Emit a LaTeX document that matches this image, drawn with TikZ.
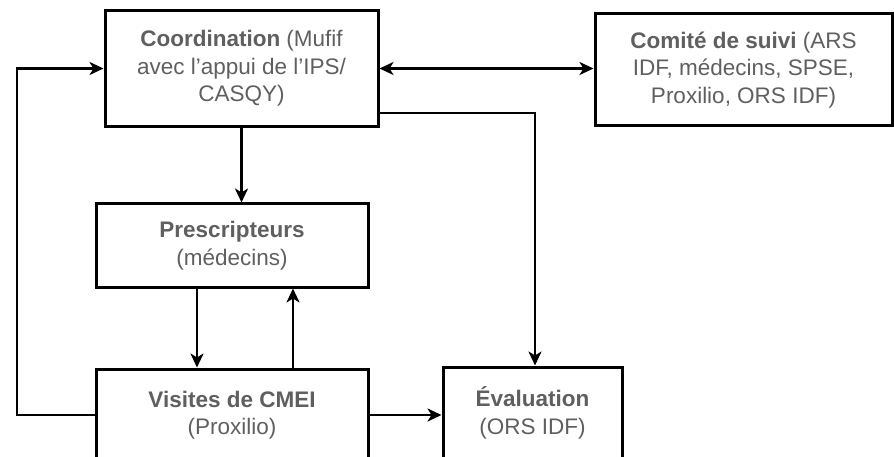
\documentclass[tikz,border=0pt]{standalone}
\usepackage{fontspec}
\setmainfont{Liberation Sans}
\usetikzlibrary{arrows.meta}
\definecolor{txt}{RGB}{95,95,95}
\begin{document}
\begin{tikzpicture}[x=1pt,y=-1pt,
  box/.style={draw=black,line width=3pt,align=center,text=txt,inner sep=0pt,
    font=\fontsize{22.5}{27.5}\selectfont},
  tip/.style={},
  arr/.style={line width=2.5pt,-{Stealth[length=14pt,width=13pt,inset=4pt]}},
  darr/.style={line width=2.5pt,{Stealth[length=14pt,width=13pt,inset=4pt]}-{Stealth[length=14pt,width=13pt,inset=4pt]}}]
\useasboundingbox (0,0) rectangle (894,457);
\clip (0,0) rectangle (894,457);
\node[box,minimum width=273pt,minimum height=116pt] (coord) at (241.5,68.5)
  {\textbf{Coordination} (Mufif\\avec l’appui de l’IPS/\\CASQY)};
\node[box,minimum width=297pt,minimum height=112pt] (comite) at (743.5,70)
  {\textbf{Comité de suivi} (ARS\\IDF, médecins, SPSE,\\Proxilio, ORS IDF)};
\node[box,minimum width=272pt,minimum height=83pt] (presc) at (232,245.5)
  {\textbf{Prescripteurs}\\(médecins)};
\node[box,minimum width=272pt,minimum height=92pt] (vis) at (232,415)
  {\textbf{Visites de CMEI}\\(Proxilio)};
\node[box,minimum width=179pt,minimum height=92pt] (eval) at (532.5,413)
  {\textbf{Évaluation}\\(ORS IDF)};
\coordinate (lx) at (17,0);
\coordinate (ex) at (535,113);
\draw[arr] (vis.west) -- (vis.west -| lx) |- (coord.west);
\draw[darr] (coord.east) -- (comite.west |- coord.east);
\draw[arr] (coord.east |- ex) -- (ex) -- (ex |- eval.north);
\draw[arr] (coord.south) -- (coord.south |- presc.north);
\draw[arr] (presc.south -| 197,0) -- (vis.north -| 197,0);
\draw[arr] (vis.north -| 293,0) -- (presc.south -| 293,0);
\draw[arr] (vis.east) -- (eval.west |- vis.east);
\end{tikzpicture}
\end{document}
